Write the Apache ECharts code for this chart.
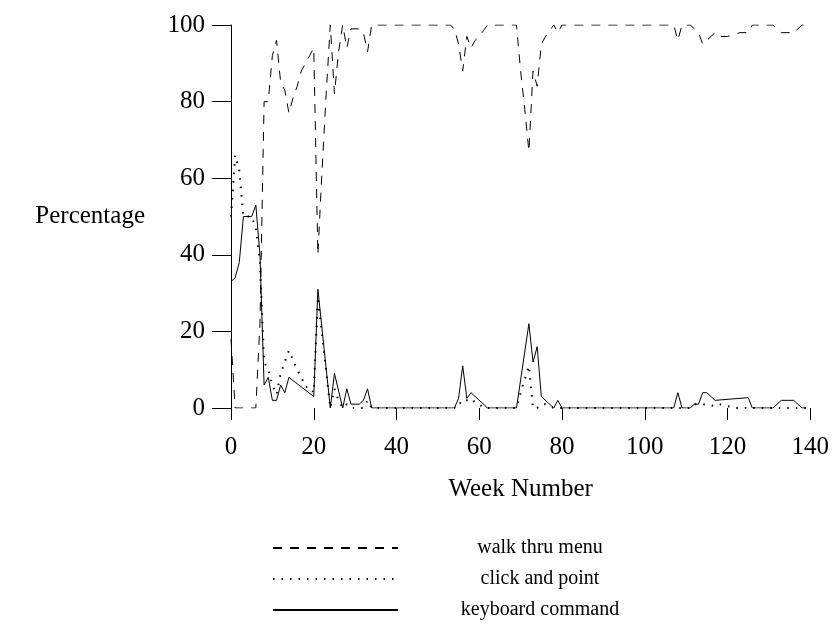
<!DOCTYPE html>
<html>
<head>
<meta charset="utf-8">
<script src="https://cdn.jsdelivr.net/npm/echarts@6/dist/echarts.min.js"></script>
<style>
  html, body { margin: 0; padding: 0; background: #fff; }
  #chart { width: 832px; height: 631px; }
</style>
</head>
<body>
<div id="chart"></div>
<script>
const seriesNames = ['walk thru menu', 'click and point', 'keyboard command']

// walk thru menu (dashed)
const walkWeeks = [0, 1, 6, 7, 8, 9, 10, 11, 12, 13, 14, 15, 16, 17, 18, 19, 20, 21, 22, 23, 24, 25, 26, 27, 28, 29, 31, 32, 33, 34,
  53, 54, 55, 56, 57, 58, 59, 60, 61, 62, 69, 70, 71, 72, 73, 74, 75, 76, 77, 78, 79, 80,
  107, 108, 109, 111, 113, 114, 117, 118, 120, 123, 125, 126, 131, 133, 136, 138, 139]
const walkValues = [18, 0, 0, 22, 80, 80, 92, 96, 85, 83, 77, 81, 84, 88, 90, 92, 94, 40, 62, 82, 100, 82, 93, 100, 94, 99, 99, 98, 93, 100,
  100, 99, 95, 88, 97, 94, 96, 97, 98.5, 100, 100, 88, 78, 67, 88, 84, 95, 97, 98.5, 100, 98, 100,
  100, 96, 100, 100, 98, 95, 98, 97, 97, 98, 98, 100, 100, 98, 98, 100, 100]

// click and point (dotted)
const clickWeeks = [0, 1, 2, 3, 5, 6, 7, 8, 9, 10, 11, 12, 13, 14, 15, 16, 17, 18, 19, 20, 21, 24, 25, 26, 27, 28, 29, 32, 33, 34,
  54, 55, 56, 57, 58, 59, 60, 61, 69, 70, 71, 72, 73, 74, 75, 76, 77, 78,
  111, 112, 114, 117, 118, 120, 122, 139]
const clickValues = [50, 66, 62, 50, 50, 47, 38, 12, 10, 6, 3.5, 9, 12, 15, 12.5, 10, 8, 5.5, 5.5, 4, 29, 0, 5, 2, 0, 1, 0, 0, 2, 0,
  0, 1.5, 1, 2, 2.5, 1.5, 1, 0, 0, 4, 7.5, 11, 0, 0, 1, 1, 0.5, 0,
  0, 1, 1, 0.5, 1, 0.5, 0, 0]

// keyboard command (solid)
const keyWeeks = [0, 1, 2, 3, 5, 6, 7, 8, 9, 10, 11, 12, 13, 14, 20, 21, 24, 25, 27, 28, 29, 31, 32, 33, 34,
  54, 55, 56, 57, 58, 62, 69, 72, 73, 74, 75, 78, 79, 80,
  107, 108, 109, 111, 112, 113, 114, 115, 117, 125, 126, 131, 133, 136, 138, 139]
const keyValues = [33, 34, 38, 50, 50, 53, 40, 6, 8, 2, 2, 6, 4, 8, 3, 31, 0, 9, 0, 5, 1, 1, 2, 5, 0,
  0, 2.5, 11, 2.5, 4, 0, 0, 22, 12, 16, 3, 0, 2, 0,
  0, 4, 0, 0, 1, 1, 4, 4, 2, 2.7, 0, 0, 2, 2, 0, 0]

const font = "'Liberation Serif', 'Times New Roman', serif"

function pairs(xs, ys) {
  return xs.map((x, i) => [x, ys[i]])
}

function lineSeries(name, xs, ys, type, width) {
  return {
    name,
    type: 'line',
    data: pairs(xs, ys),
    symbol: 'none',
    silent: true,
    itemStyle: { color: '#000' },
    lineStyle: { color: '#000', width, type }
  }
}

const chart = echarts.init(document.getElementById('chart'))

chart.setOption({
  animation: false,
  backgroundColor: '#fff',
  textStyle: { fontFamily: font, color: '#000' },
  grid: { left: 231, right: 21, top: 25, bottom: 223 },
  xAxis: {
    type: 'value',
    min: 0,
    max: 140,
    interval: 20,
    name: 'Week Number',
    nameLocation: 'middle',
    nameGap: 69,
    nameTextStyle: { fontFamily: font, fontSize: 25, color: '#000' },
    axisLine: { show: false },
    axisTick: { show: true, length: 12, lineStyle: { color: '#000' } },
    axisLabel: { margin: 27, fontFamily: font, fontSize: 25, color: '#000' },
    splitLine: { show: false }
  },
  yAxis: {
    type: 'value',
    min: 0,
    max: 100,
    interval: 20,
    name: 'Percentage',
    nameLocation: 'middle',
    nameRotate: 0,
    nameGap: 86,
    nameTextStyle: { fontFamily: font, fontSize: 25, color: '#000' },
    axisLine: { show: true, lineStyle: { color: '#000', width: 1 } },
    axisTick: { show: true, length: 19, lineStyle: { color: '#000' } },
    axisLabel: { margin: 26, fontFamily: font, fontSize: 25, color: '#000' },
    splitLine: { show: false }
  },
  legend: {
    orient: 'vertical',
    left: 272,
    top: 538,
    padding: 0,
    itemWidth: 125,
    itemHeight: 14,
    itemGap: 11,
    selectedMode: false,
    data: seriesNames,
    itemStyle: { opacity: 0 },
    formatter: '{n|{name}}',
    textStyle: {
      fontFamily: font,
      fontSize: 20,
      color: '#000',
      rich: { n: { width: 274, align: 'center', fontFamily: font, fontSize: 20 } }
    }
  },
  series: [
    lineSeries(seriesNames[0], walkWeeks, walkValues, [9, 8], 1),
    lineSeries(seriesNames[1], clickWeeks, clickValues, [1.5, 7], 2),
    lineSeries(seriesNames[2], keyWeeks, keyValues, 'solid', 1)
  ]
})
</script>
</body>
</html>
